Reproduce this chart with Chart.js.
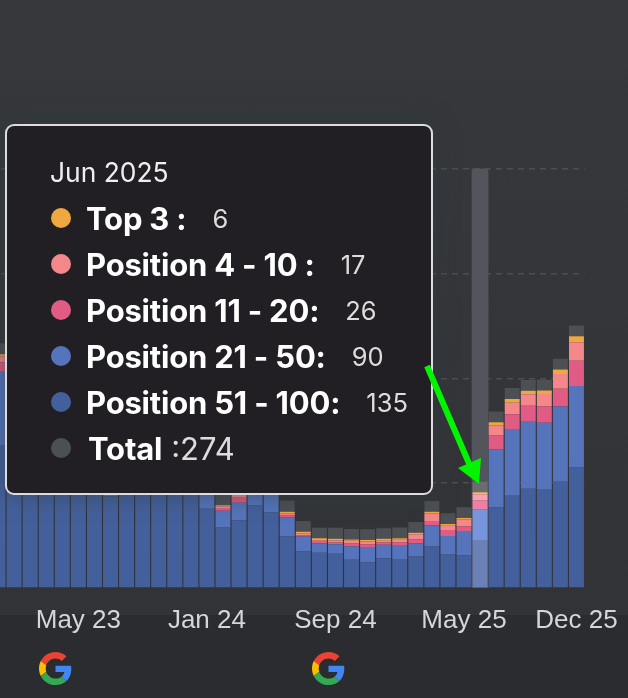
<!DOCTYPE html>
<html>
<head>
<meta charset="utf-8">
<title>Keyword positions</title>
<script src="https://cdn.jsdelivr.net/npm/chart.js@4/dist/chart.umd.min.js"></script>
<style>
    html, body { margin: 0; padding: 0; }
    body {
        width: 628px; height: 698px; overflow: hidden; position: relative;
        background: linear-gradient(#36383c 0, #323337 615px, #2a2c30 615px);
    }
    #chart-wrap { position: absolute; left: -30px; top: 0; width: 688px; height: 660px; }
    #tooltip {
        position: absolute; left: 5px; top: 124px; width: 424px; height: 367px;
        background: #211f24; border: 2px solid #dcdcdc; border-radius: 9px;
        box-shadow: 0 0 24px rgba(45, 60, 65, 0.6);
        font-family: Inter, sans-serif; color: #fff;
    }
    #tooltip .title { position: absolute; left: 43px; top: 29px; font-size: 26.4px; line-height: 34px; color: #eee; }
    #tooltip .row { position: absolute; left: 44px; display: flex; align-items: center; height: 36px; white-space: nowrap; }
    #tooltip .dot { width: 20px; height: 20px; border-radius: 50%; margin-right: 15px; }
    #tooltip .name { font-weight: 700; font-size: 31px; letter-spacing: -0.2px; }
    #tooltip .value { font-size: 25.5px; color: #ddd; margin-left: 26px; }
    #tooltip .total { font-size: 31px; margin-left: 9px; }
    .g-logo { position: absolute; top: 652px; width: 33px; height: 33px; }
    #arrow { position: absolute; left: 0; top: 0; }
</style>
</head>
<body>
<div id="chart-wrap"><canvas id="positions-chart"></canvas></div>
<div id="tooltip"></div>
<svg id="arrow" width="628" height="698">
    <line x1="427" y1="366" x2="471" y2="468" stroke="#03f400" stroke-width="6"/>
    <polygon points="481,458 458,468 479,484" fill="#03f400"/>
</svg>
<svg class="g-logo" style="left:39px" viewBox="0 0 48 48"><use href="#g"/></svg>
<svg class="g-logo" style="left:312px" viewBox="0 0 48 48">
    <g id="g">
        <path fill="#EA4335" d="M24 9.5c3.54 0 6.71 1.22 9.21 3.6l6.85-6.85C35.9 2.38 30.47 0 24 0 14.62 0 6.51 5.38 2.56 13.22l7.98 6.19C12.43 13.72 17.74 9.5 24 9.5z"/>
        <path fill="#4285F4" d="M46.98 24.55c0-1.57-.15-3.09-.38-4.55H24v9.02h12.94c-.58 2.96-2.26 5.48-4.78 7.18l7.73 6c4.51-4.18 7.09-10.36 7.09-17.65z"/>
        <path fill="#FBBC05" d="M10.53 28.59c-.48-1.45-.76-2.99-.76-4.59s.27-3.14.76-4.59l-7.98-6.19C.92 16.46 0 20.12 0 24c0 3.88.92 7.54 2.56 10.78l7.97-6.19z"/>
        <path fill="#34A853" d="M24 48c6.48 0 11.93-2.13 15.89-5.81l-7.73-6c-2.15 1.45-4.92 2.3-8.16 2.3-6.26 0-11.57-4.22-13.47-9.91l-7.98 6.19C6.51 42.62 14.62 48 24 48z"/>
    </g>
</svg>

<script>
const months = ['Dec 22',
    'Jan 23', 'Feb 23', 'Mar 23', 'Apr 23', 'May 23', 'Jun 23', 'Jul 23', 'Aug 23', 'Sep 23', 'Oct 23', 'Nov 23', 'Dec 23',
    'Jan 24', 'Feb 24', 'Mar 24', 'Apr 24', 'May 24', 'Jun 24', 'Jul 24', 'Aug 24', 'Sep 24', 'Oct 24', 'Nov 24', 'Dec 24',
    'Jan 25', 'Feb 25', 'Mar 25', 'Apr 25', 'May 25', 'Jun 25', 'Jul 25', 'Aug 25', 'Sep 25', 'Oct 25', 'Nov 25', 'Dec 25'];
const tickLabels = ['May 23', 'Jan 24', 'Sep 24', 'May 25', 'Dec 25'];

const pos51to100 = [407, 392, 370, 352, 338, 312, 288, 262, 274, 290, 284, 276, 268,
    227, 173, 193, 236, 216, 147, 105, 101, 98, 81, 73, 85,
    83, 90, 119, 96, 94, 135, 231, 264, 284, 281, 304, 345];
const pos21to50 = [214, 205, 190, 176, 160, 150, 132, 120, 118, 124, 110, 104, 92,
    60, 48, 51, 50, 60, 55, 42, 27, 27, 38, 44, 39,
    38, 38, 60, 53, 67, 90, 165, 189, 194, 192, 215, 233];
const pos11to20 = [25, 26, 24, 22, 20, 18, 18, 16, 17, 16, 15, 14, 13,
    12, 8, 14, 15, 13, 6, 4, 4, 5, 9, 8, 7,
    9, 11, 13, 17, 15, 26, 40, 44, 43, 47, 51, 72];
const pos4to10 = [17, 16, 15, 14, 14, 12, 12, 11, 11, 10, 10, 9, 9,
    9, 4, 10, 12, 8, 5, 5, 4, 6, 7, 8, 4,
    8, 15, 22, 12, 20, 17, 29, 33, 33, 35, 42, 53];
const top3 = [6, 6, 5, 5, 5, 5, 4, 4, 4, 4, 4, 4, 4,
    4, 4, 5, 5, 4, 5, 5, 6, 5, 4, 4, 6,
    4, 4, 4, 5, 4, 6, 9, 11, 10, 10, 13, 17];
const totalCap = [31, 31, 31, 31, 31, 31, 31, 31, 31, 31, 31, 31, 31,
    31, 31, 31, 31, 31, 32, 31, 30, 31, 30, 31, 30,
    31, 31, 31, 31, 31, 30, 31, 31, 31, 31, 31, 31];

const activeMonth = 'Jun 25';
const activeIndex = months.indexOf(activeMonth);

// bottom of the stack first
const seriesInfo = [
    { label: 'Position 51 - 100:', data: pos51to100, color: '#44609c', hover: '#6a80b7' },
    { label: 'Position 21 - 50:', data: pos21to50, color: '#5574bc', hover: '#7695dc' },
    { label: 'Position 11 - 20:', data: pos11to20, color: '#e05c84', hover: '#ef7ea5' },
    { label: 'Position 4 - 10 :', data: pos4to10, color: '#f38789', hover: '#f7a2ae' },
    { label: 'Top 3 :', data: top3, color: '#efa83f', hover: '#f7b95e' },
    { label: 'Total', data: totalCap, color: '#4c4f54', hover: '#6a6c70' }
];

const hoverBand = {
    id: 'hoverBand',
    beforeDatasetsDraw(chart) {
        const { ctx, chartArea, scales } = chart;
        const x = scales.x.getPixelForValue(activeIndex);
        ctx.save();
        ctx.fillStyle = '#52555b';
        ctx.fillRect(x - 8.4, chartArea.top, 16.8, chartArea.bottom - chartArea.top);
        ctx.restore();
    }
};

new Chart(document.getElementById('positions-chart'), {
    type: 'bar',
    plugins: [hoverBand],
    data: {
        labels: months,
        datasets: seriesInfo.map(s => ({
            label: s.label,
            data: s.data,
            backgroundColor: ctx => ctx.dataIndex === activeIndex ? s.hover : s.color,
            barPercentage: 0.93,
            categoryPercentage: 1
        }))
    },
    options: {
        responsive: true,
        maintainAspectRatio: false,
        animation: false,
        events: [],
        layout: { padding: { left: 20, right: 73.5, top: 168.5, bottom: 22 } },
        plugins: { legend: { display: false }, tooltip: { enabled: false } },
        scales: {
            x: {
                stacked: true,
                grid: { display: false },
                border: { display: false },
                afterFit: s => { s.paddingLeft = 0; s.paddingRight = 0; s.height = 50; },
                ticks: {
                    autoSkip: false,
                    maxRotation: 0,
                    padding: 9,
                    color: '#d5d6d8',
                    font: { family: '"Liberation Sans"', size: 26 },
                    callback(value) {
                        const label = this.getLabelForValue(value);
                        return tickLabels.includes(label) ? label : '';
                    }
                }
            },
            y: {
                stacked: true,
                min: 0,
                max: 1200,
                afterFit: s => { s.width = 0; },
                ticks: { display: false, stepSize: 300 },
                border: { display: false, dash: [6, 5] },
                grid: {
                    drawTicks: false,
                    lineWidth: 1.5,
                    color: ctx => ctx.tick.value === 0 ? 'transparent' : '#4c4e52'
                }
            }
        }
    }
});

// --- Tooltip for the highlighted month ---
const tooltipEl = document.getElementById('tooltip');
const [mon, yr] = activeMonth.split(' ');
let html = `<div class="title">${mon} 20${yr}</div>`;
const tooltipRows = seriesInfo.slice(0, 5).reverse();
tooltipRows.forEach((s, i) => {
    html += `<div class="row" style="top:${74 + i * 46}px"><span class="dot" style="background:${s.color}"></span>` +
        `<span class="name">${s.label}</span><span class="value">${s.data[activeIndex]}</span></div>`;
});
const total = tooltipRows.reduce((sum, s) => sum + s.data[activeIndex], 0);
html += `<div class="row" style="top:${74 + 5 * 46}px"><span class="dot" style="background:#4c4f54"></span>` +
    `<span class="name" style="margin-left:2px">Total</span><span class="value total">:${total}</span></div>`;
tooltipEl.innerHTML = html;
</script>
</body>
</html>
